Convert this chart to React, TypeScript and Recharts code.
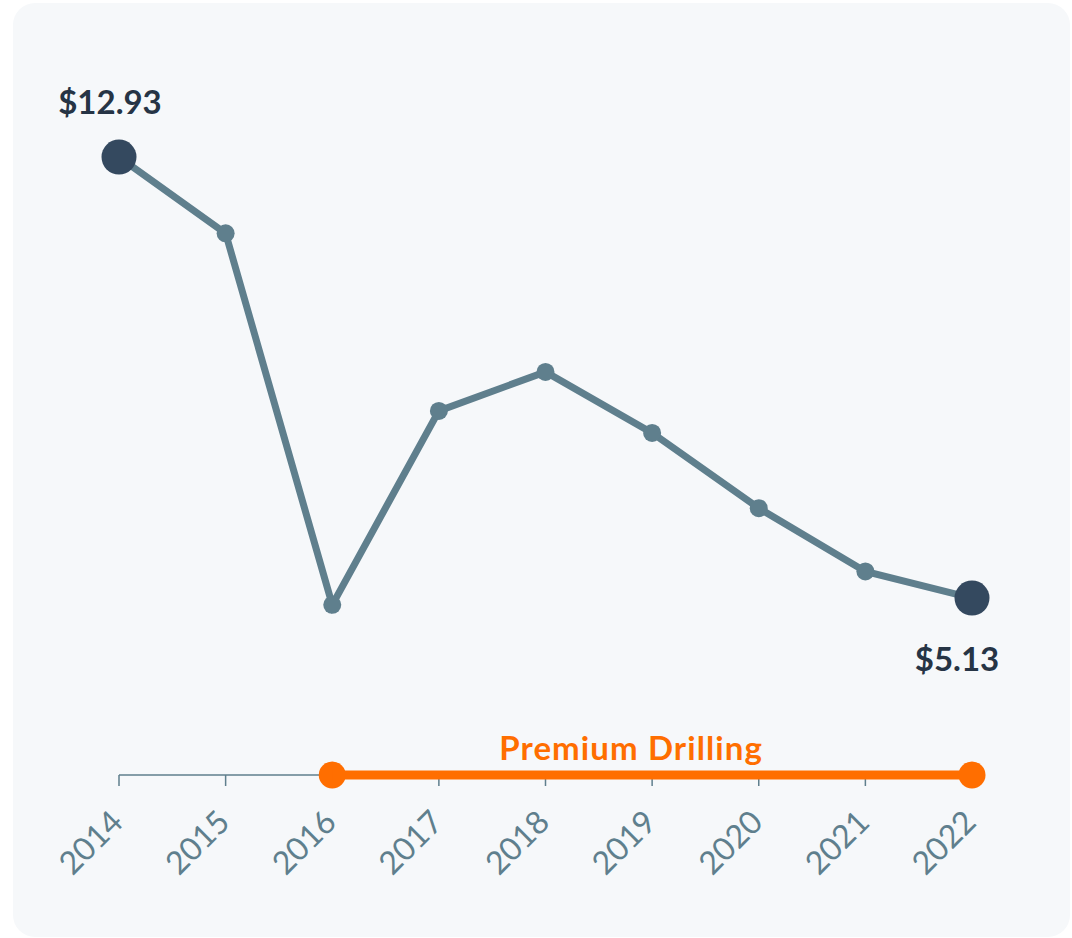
import { LabelList, Line, LineChart, XAxis, YAxis } from "recharts"

const years = ["2014", "2015", "2016", "2017", "2018", "2019", "2020", "2021", "2022"]
const costPerFoot = [12.93, 11.58, 5.01, 8.44, 9.13, 8.05, 6.72, 5.6, 5.13]
// premium drilling era runs from 2016 onward
const premiumStart = "2016"
const premiumLabel = "Premium Drilling"

const data = years.map((year, i) => ({
  year,
  cost: costPerFoot[i],
  premium: year >= premiumStart ? 0 : null,
}))

const LINE = "#5f7f8d"
const DARK = "#34495f"
const TEXT = "#263445"
const ORANGE = "#ff6e00"
const FONT = "Lato, 'Open Sans', sans-serif"

const last = data.length - 1
const firstPremium = data.findIndex((d) => d.premium !== null)

function CostDot(props: any) {
  const { cx, cy, index } = props
  if (cx == null || cy == null) return null
  const big = index === 0 || index === last
  return <circle cx={cx} cy={cy} r={big ? 17.5 : 9} fill={big ? DARK : LINE} />
}

function PremiumDot(props: any) {
  const { cx, cy, index } = props
  if (cx == null || cy == null) return null
  if (index !== firstPremium && index !== last) return null
  return <circle cx={cx} cy={cy} r={13.5} fill={ORANGE} />
}

function CostLabel(props: any) {
  const { x, y, value, index } = props
  if (index !== 0 && index !== last) return null
  const above = index === 0
  return (
    <text
      x={above ? x - 9 : x - 15}
      y={above ? y - 43 : y + 73}
      textAnchor="middle"
      fill={TEXT}
      fontFamily={FONT}
      fontWeight={700}
      fontSize={33}
    >
      {`$${Number(value).toFixed(2)}`}
    </text>
  )
}

function PremiumText(props: any) {
  const { x, y, index } = props
  if (index !== 5) return null
  return (
    <text
      x={x - 21}
      y={y - 15}
      textAnchor="middle"
      fill={ORANGE}
      fontFamily={FONT}
      fontWeight={700}
      fontSize={33}
      letterSpacing={1.1}
    >
      {premiumLabel}
    </text>
  )
}

function YearTick(props: any) {
  const { x, y, payload } = props
  const tx = x + 6
  const ty = y + 38
  return (
    <text
      x={tx}
      y={ty}
      textAnchor="end"
      transform={`rotate(-45, ${tx}, ${ty})`}
      fill={LINE}
      fontFamily={FONT}
      fontSize={32}
    >
      {payload.value}
    </text>
  )
}

export default function App() {
  return (
    <div
      style={{
        position: "absolute",
        left: 13,
        top: 3,
        width: 1057,
        height: 934,
        background: "#f6f8fa",
        borderRadius: 22,
      }}
    >
      <LineChart
        width={1057}
        height={934}
        data={data}
        margin={{ top: 37, right: 98, left: 106, bottom: 0 }}
      >
        <XAxis
          dataKey="year"
          height={162}
          axisLine={{ stroke: LINE, strokeWidth: 1.5 }}
          tickLine={{ stroke: LINE, strokeWidth: 1.5 }}
          tickSize={11}
          tickMargin={0}
          tick={<YearTick />}
          interval={0}
        />
        <YAxis yAxisId="cost" hide domain={[2, 15]} />
        <YAxis yAxisId="band" hide domain={[0, 1]} />
        <Line
          yAxisId="cost"
          dataKey="cost"
          stroke={LINE}
          strokeWidth={7}
          dot={<CostDot />}
          activeDot={false}
          isAnimationActive={false}
        >
          <LabelList dataKey="cost" content={<CostLabel />} />
        </Line>
        <Line
          yAxisId="band"
          dataKey="premium"
          stroke={ORANGE}
          strokeWidth={9}
          dot={<PremiumDot />}
          activeDot={false}
          connectNulls={false}
          isAnimationActive={false}
          {...({ zIndex: 700 } as any)}
        >
          <LabelList dataKey="premium" content={<PremiumText />} />
        </Line>
      </LineChart>
    </div>
  )
}
